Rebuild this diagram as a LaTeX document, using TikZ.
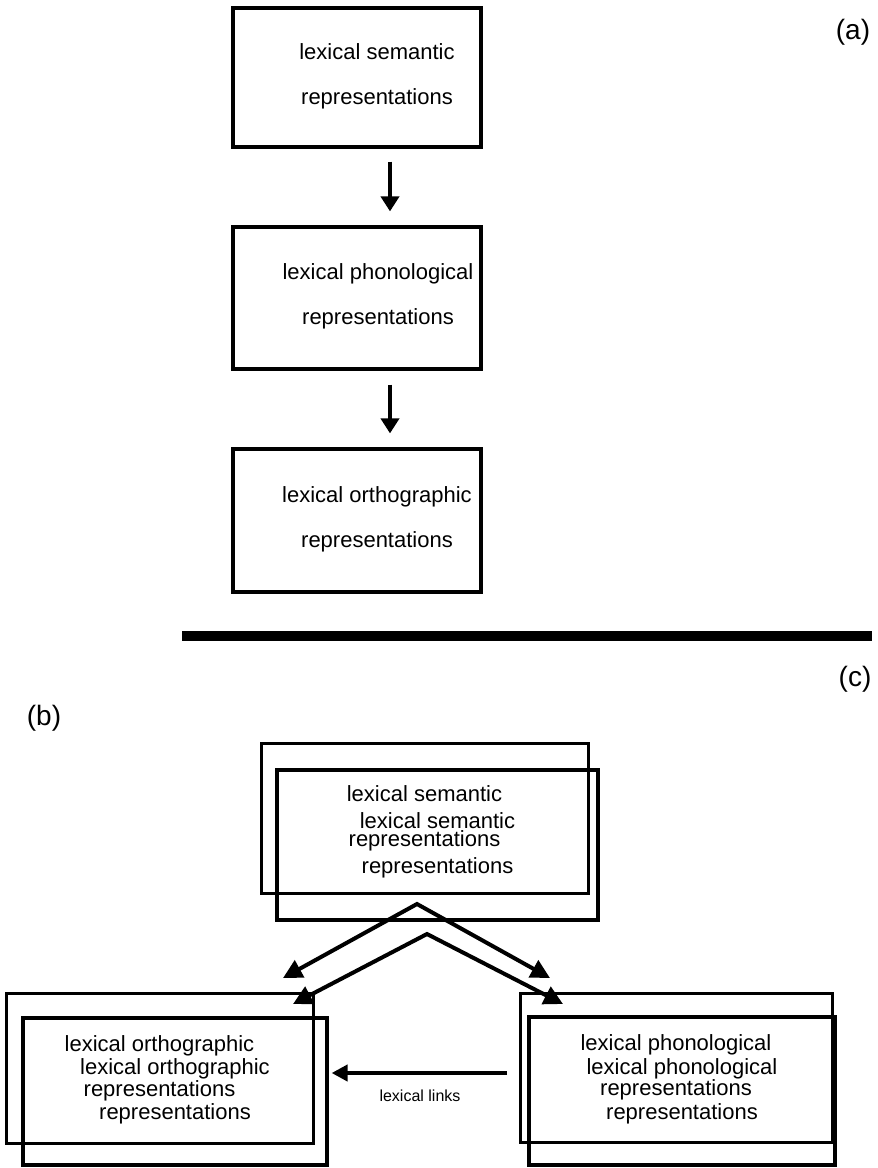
\documentclass[tikz,border=0pt]{standalone}
\usepackage{fontspec}
\setmainfont{Liberation Sans}
\usetikzlibrary{arrows.meta}
\begin{document}
\begin{tikzpicture}[x=1pt, y=-1pt,
    box/.style={draw, line width=3.2pt, rectangle, inner sep=0pt},
    backbox/.style={box, line width=3pt},
    txt/.style={align=center, font=\fontsize{22}{45}\selectfont},
    tag/.style={font=\fontsize{28}{30}\selectfont},
    arr/.style={line width=4pt, -{Triangle[length=15pt,width=18pt]}},
    chev/.style={line width=4pt, {Triangle[length=19pt,width=19pt]}-{Triangle[length=19pt,width=19pt]}}]
    \useasboundingbox (0,0) rectangle (878,1168);
    % (a)
    \node[box, minimum width=248pt, minimum height=139pt] (sem) at (357,77.5) {};
    \node[box, minimum width=248pt, minimum height=142pt] (pho) at (357,298) {};
    \node[box, minimum width=248pt, minimum height=143pt] (ort) at (357,520.5) {};
    \node[txt] (semT) at (377,76) {lexical semantic\\representations};
    \node[txt] (phoT) at (378,296) {lexical phonological\\representations};
    \node[txt] (ortT) at (377,519) {lexical orthographic\\representations};
    \draw[arr, shorten <=13pt, shorten >=14pt] ([xshift=33pt]sem.south) -- ([xshift=33pt]pho.north);
    \draw[arr, shorten <=14pt, shorten >=14pt] ([xshift=33pt]pho.south) -- ([xshift=33pt]ort.north);
    \node[tag] (labA) at (853,32) {(a)};
    \fill (182,631) rectangle (872,641);
    \node[tag] (labC) at (855,679) {(c)};
    % (b)
    \node[tag] (labB) at (44,718) {(b)};
    \node[backbox, minimum width=327pt, minimum height=150pt, txt] (semA) at (424.5,818) {lexical semantic\\representations};
    \node[box, minimum width=321pt, minimum height=150pt, txt] (semB) at (437.5,845) {lexical semantic\\representations};
    \node[backbox, minimum width=307pt, minimum height=150pt, txt] (ortA) at (159.5,1068) {lexical orthographic\\representations};
    \node[box, minimum width=304pt, minimum height=147pt, txt] (ortB) at (175,1091.5) {lexical orthographic\\representations};
    \node[backbox, minimum width=312pt, minimum height=149pt, txt] (phoA) at (676,1067.5) {lexical phonological\\representations};
    \node[box, minimum width=306pt, minimum height=148pt, txt] (phoB) at (682,1091) {lexical phonological\\representations};
    \coordinate (topA) at (417,904);
    \coordinate (topB) at (427,934);
    \coordinate (ortTipA) at (283,978);
    \coordinate (ortTipB) at (293,1004);
    \coordinate (phoTipA) at (550,978);
    \coordinate (phoTipB) at (563,1004);
    \draw[chev] (ortTipA) -- (topA) -- (phoTipA);
    \draw[chev] (ortTipB) -- (topB) -- (phoTipB);
    \coordinate (lnk) at (507,1073);
    \draw[line width=4pt, -{Triangle[length=16pt,width=16pt]}] (lnk) -- ([xshift=3pt]lnk -| ortB.east);
    \node[font=\fontsize{16}{18}\selectfont] (lnkT) at (420,1096) {lexical links};
\end{tikzpicture}
\end{document}
